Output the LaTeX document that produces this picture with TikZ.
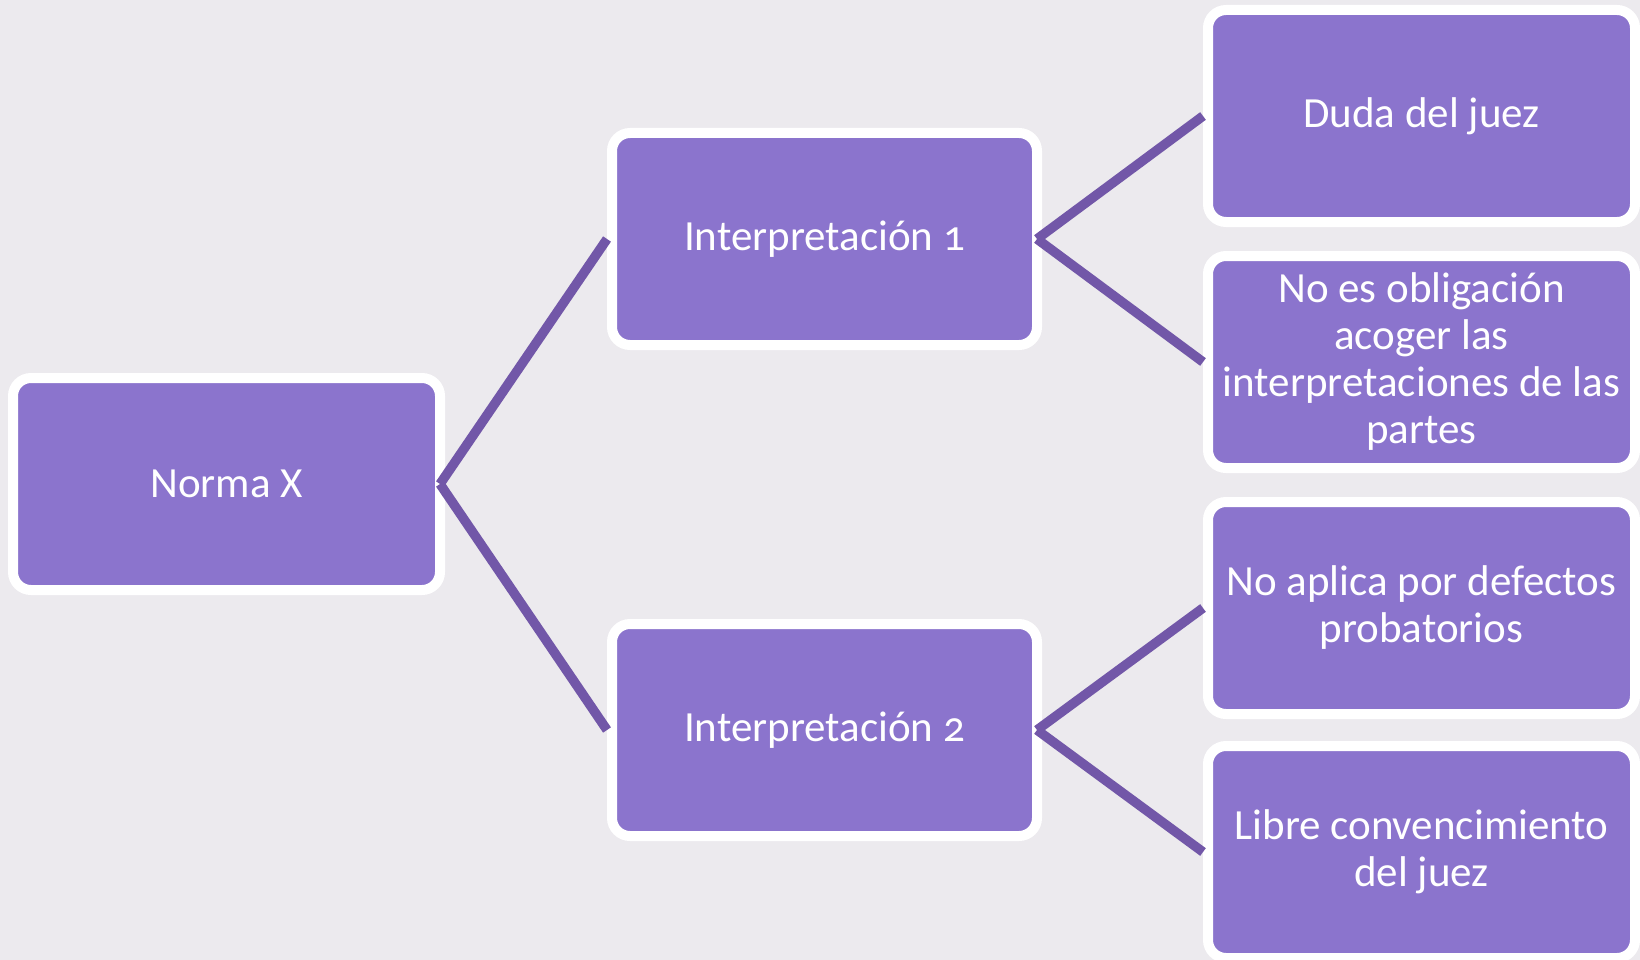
\documentclass[tikz,border=0pt]{standalone}
\usepackage{fontspec}
\setmainfont[Numbers=OldStyle]{Carlito}
\definecolor{paper}{HTML}{ECEAEE}
\definecolor{boxfill}{HTML}{8B74CD}
\definecolor{linkcol}{HTML}{7257A8}
\tikzset{
  card/.style={draw=white, line width=10pt, fill=boxfill, rounded corners=18pt,
    minimum width=427pt, minimum height=212pt, inner sep=0pt, outer sep=0pt,
    text=white, align=center,
    font=\fontsize{43}{47}\selectfont},
  link/.style={draw=linkcol, line width=9.5pt}
}
\begin{document}
\begin{tikzpicture}[x=1pt,y=-1pt]
  \fill[paper] (0,0) rectangle (1640,960);
  \useasboundingbox (0,0) rectangle (1640,960);

  % root and the two readings
  \node[card] (norma) at (226.5,484) {Norma X};
  \node[card, minimum width=425pt] (int1) at (824.5,239) {Interpretación 1};
  \node[card, minimum width=425pt] (int2) at (824.5,730) {Interpretación 2};

  % consequences of each reading
  \node[card] (duda)   at (1421.5,116) {Duda del juez};
  \node[card] (noes)   at (1421.5,362) {No es obligación\\acoger las\\interpretaciones de las\\partes};
  \node[card] (noapl)  at (1421.5,608) {No aplica por defectos\\probatorios};
  \node[card] (libre)  at (1421.5,852) {Libre convencimiento\\del juez};

  % connectors: start on the parent's edge, stop at the child's white rim
  \draw[link] (norma.east) -- ([xshift=-5pt]int1.west);
  \draw[link] (norma.east) -- ([xshift=-5pt]int2.west);
  \draw[link] (int1.east) -- ([xshift=-5pt]duda.west);
  \draw[link] (int1.east) -- ([xshift=-5pt]noes.west);
  \draw[link] (int2.east) -- ([xshift=-5pt]noapl.west);
  \draw[link] (int2.east) -- ([xshift=-5pt]libre.west);
\end{tikzpicture}
\end{document}
